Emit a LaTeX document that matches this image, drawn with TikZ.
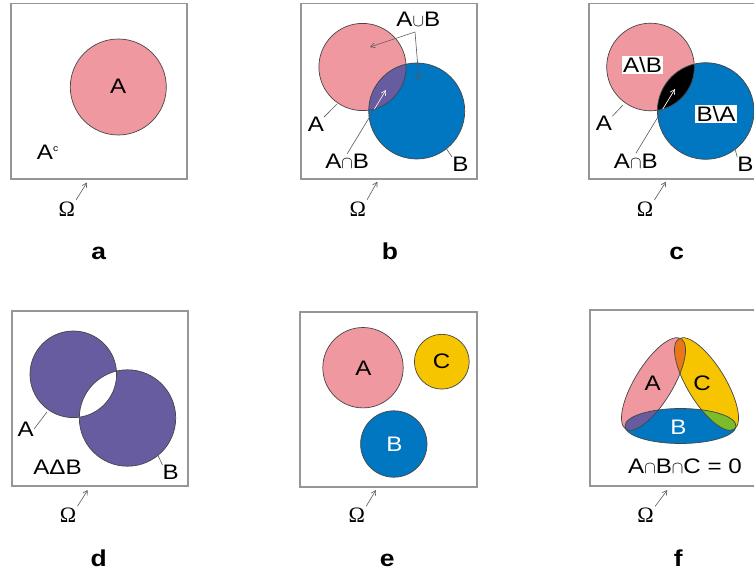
\documentclass[tikz,border=0pt]{standalone}
\usepackage{fontspec}
\setmainfont{Liberation Sans}[FakeStretch=1.15]
\newfontfamily\omegaserif{Liberation Serif}
\usetikzlibrary{arrows.meta}
\definecolor{setpink}{RGB}{240,152,160}
\definecolor{setblue}{RGB}{0,119,192}
\definecolor{setpurple}{RGB}{104,92,160}
\definecolor{setyellow}{RGB}{247,196,0}
\definecolor{setorange}{RGB}{232,119,26}
\definecolor{setgreen}{RGB}{124,187,42}
\definecolor{framegray}{RGB}{150,150,150}
\definecolor{edgegray}{RGB}{70,70,70}
\definecolor{leadgray}{RGB}{90,90,90}
\newcommand{\icap}{{\fontsize{18}{18}\selectfont$\cap$}}
\newcommand{\icup}{{\fontsize{18}{18}\selectfont$\cup$}}
\tikzset{
  frame/.style={draw=framegray, line width=1.4pt},
  setline/.style={draw=edgegray, line width=0.7pt},
  lbl/.style={inner sep=0pt, font=\fontsize{21}{24}\selectfont},
  wlbl/.style={lbl, text=white},
  boxlbl/.style={lbl, fill=white, inner sep=1.5pt},
  omg/.style={inner sep=0pt, font=\omegaserif\fontsize{22}{24}\selectfont},
  tag/.style={inner sep=0pt, anchor=base, font=\bfseries\fontsize{23}{26}\selectfont},
  ptr/.style={draw=leadgray, line width=0.6pt, -{Straight Barb[length=4.5pt,width=5pt]}},
  leader/.style={draw=leadgray, line width=0.6pt},
  ellA/.style={rotate around={58.6:(653.5,384)}},
  ellC/.style={rotate around={-58.6:(706.5,384)}},
}
\begin{document}
\begin{tikzpicture}[x=1pt,y=-1pt]
\path[use as bounding box] (0,0) rectangle (754,575);
\clip (0,0) rectangle (754,575);
\fill[white] (0,0) rectangle (754,575);

% ---------- panel a ----------
\draw[frame] (11,3.3) rectangle (187,179);
\draw[setline, fill=setpink] (118.3,87) circle (48);
\node[lbl] (aA) at (118.3,86.5) {A};
\node[lbl, anchor=base west] (aAc) at (36.7,159.3) {A\raisebox{8pt}{\fontsize{9}{9}\selectfont c}};
\node[omg] (aOm) at (66.7,209) {Ω};
\coordinate (aOmT) at (87,182.5);
\draw[ptr, shorten <=2pt] (aOm.north east) -- (aOmT);
\node[tag] (aTag) at (98.7,259) {a};

% ---------- panel b ----------
\draw[frame] (301,3.3) rectangle (477,179);
\fill[setpink] (362.5,67) circle (43.6);
\fill[setblue] (416.7,111) circle (48);
\begin{scope}
  \clip (362.5,67) circle (43.6);
  \fill[setpurple] (416.7,111) circle (48);
\end{scope}
\draw[setline] (362.5,67) circle (43.6);
\draw[setline] (416.7,111) circle (48);
\node[lbl] (bUnion) at (418.3,18.8) {A\icup B};
\coordinate (bFork) at (415,32);
\coordinate (bToA) at (370,47);
\coordinate (bToB) at (419,80);
\draw[ptr] (bFork) -- (bToA);
\draw[ptr] (bFork) -- (bToB);
\node[lbl] (bA) at (315.8,124.5) {A};
\coordinate (bAT) at (337,104);
\draw[leader] (bA.north east) -- (bAT);
\node[lbl] (bAnB) at (347.2,161.2) {A\icap B};
\coordinate (bAnBT) at (386,90);
\draw[leader] (bAnB.north) -- (bAnBT);
\begin{scope}
  \clip (362.5,67) circle (43.6);
  \clip (416.7,111) circle (48);
  \draw[ptr, draw=white] (bAnB.north) -- (bAnBT);
\end{scope}
\node[lbl] (bB) at (460.3,164.5) {B};
\coordinate (bBT) at (446,148);
\draw[leader] (bB.north west) -- (bBT);
\node[omg] (bOm) at (357.7,209) {Ω};
\coordinate (bOmT) at (377.3,181.7);
\draw[ptr, shorten <=2pt] (bOm.north east) -- (bOmT);
\node[tag] (bTag) at (390,259) {b};

% ---------- panel c ----------
\draw[frame] (589,3.3) rectangle (766,179);
\fill[setpink] (650.5,67) circle (43.8);
\fill[setblue] (705.7,111) circle (48.3);
\begin{scope}
  \clip (650.5,67) circle (43.8);
  \fill[black] (705.7,111) circle (48.3);
\end{scope}
\draw[setline] (650.5,67) circle (43.8);
\draw[setline] (705.7,111) circle (48.3);
\node[boxlbl] (cAmB) at (642.5,65) {A\textbackslash B};
\node[boxlbl] (cBmA) at (716,114) {B\textbackslash A};
\node[lbl] (cA) at (604,123.7) {A};
\coordinate (cAT) at (623,105);
\draw[leader] (cA.north east) -- (cAT);
\node[lbl] (cAnB) at (635.8,160.8) {A\icap B};
\coordinate (cAnBT) at (675,89);
\draw[leader] (cAnB.north) -- (cAnBT);
\begin{scope}
  \clip (650.5,67) circle (43.8);
  \clip (705.7,111) circle (48.3);
  \draw[ptr, draw=white] (cAnB.north) -- (cAnBT);
\end{scope}
\node[lbl] (cB) at (745.5,164.5) {B};
\coordinate (cBT) at (735,149);
\draw[leader] (cB.north west) -- (cBT);
\node[omg] (cOm) at (645,209) {Ω};
\coordinate (cOmT) at (666,181.7);
\draw[ptr, shorten <=2pt] (cOm.north east) -- (cOmT);
\node[tag] (cTag) at (676.7,259) {c};

% ---------- panel d ----------
\draw[frame] (12,311) rectangle (188,486);
\fill[setpurple, even odd rule] (73.3,374.3) circle (43.3) (127.5,418) circle (48.2);
\draw[setline] (73.3,374.3) circle (43.3);
\draw[setline] (127.5,418) circle (48.2);
\node[lbl] (dA) at (25.8,429) {A};
\coordinate (dAT) at (47,412);
\draw[leader] (dA.east) -- (dAT);
\node[lbl] (dSym) at (57.5,467.5) {AΔB};
\node[lbl] (dB) at (170.8,472.5) {B};
\coordinate (dBT) at (157.5,454.5);
\draw[leader] (dB.north west) -- (dBT);
\node[omg] (dOm) at (68,515.5) {Ω};
\coordinate (dOmT) at (87.7,490);
\draw[ptr, shorten <=2pt] (dOm.north east) -- (dOmT);
\node[tag] (dTag) at (98.7,566) {d};

% ---------- panel e ----------
\draw[frame] (300,312) rectangle (477,487);
\draw[setline, fill=setpink] (363,367.7) circle (40.2);
\draw[setline, fill=setyellow] (441.8,361.7) circle (27.4);
\draw[setline, fill=setblue] (393.8,444) circle (33.2);
\node[lbl] (eA) at (363.3,368.3) {A};
\node[lbl] (eC) at (441.7,361.7) {C};
\node[wlbl] (eB) at (394.3,444) {B};
\node[omg] (eOm) at (356.7,515.5) {Ω};
\coordinate (eOmT) at (376,490);
\draw[ptr, shorten <=2pt] (eOm.north east) -- (eOmT);
\node[tag] (eTag) at (387.3,566) {e};

% ---------- panel f ----------
\draw[frame] (590,310) rectangle (766,486);
\fill[setpink, ellA] (653.5,384) ellipse [x radius=53, y radius=19];
\fill[setyellow, ellC] (706.5,384) ellipse [x radius=53, y radius=19];
\fill[setblue] (680.5,426) ellipse [x radius=55.5, y radius=17.5];
\begin{scope}
  \clip[ellA] (653.5,384) ellipse [x radius=53, y radius=19];
  \fill[setorange, ellC] (706.5,384) ellipse [x radius=53, y radius=19];
  \fill[setpurple] (680.5,426) ellipse [x radius=55.5, y radius=17.5];
\end{scope}
\begin{scope}
  \clip (680.5,426) ellipse [x radius=55.5, y radius=17.5];
  \fill[setgreen, ellC] (706.5,384) ellipse [x radius=53, y radius=19];
\end{scope}
\draw[setline, ellA] (653.5,384) ellipse [x radius=53, y radius=19];
\draw[setline, ellC] (706.5,384) ellipse [x radius=53, y radius=19];
\draw[setline] (680.5,426) ellipse [x radius=55.5, y radius=17.5];
\node[lbl] (fA) at (652.7,383.3) {A};
\node[lbl] (fC) at (702,383.3) {C};
\node[wlbl] (fB) at (678.3,427.3) {B};
\node[lbl] (fEq) at (685,466) {A\icap B\icap C = 0};
\node[omg] (fOm) at (645.5,515.5) {Ω};
\coordinate (fOmT) at (667.3,490);
\draw[ptr, shorten <=2pt] (fOm.north east) -- (fOmT);
\node[tag] (fTag) at (678.3,566) {f};
\end{tikzpicture}
\end{document}
